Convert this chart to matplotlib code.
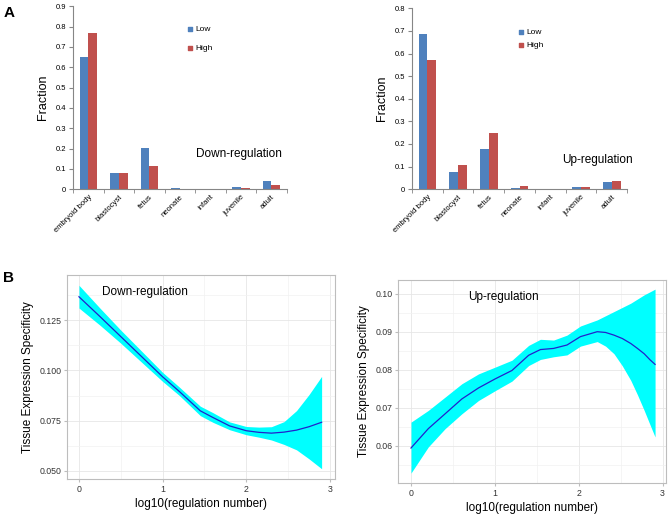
import numpy as np
import matplotlib.pyplot as plt
from matplotlib.ticker import MultipleLocator, FuncFormatter

plt.rcParams['font.family'] = ['Liberation Sans', 'DejaVu Sans']

# Panel A data (fraction per stage)
stages = ['embryoid body', 'blastocyst', 'fetus', 'neonate', 'infant', 'juvenile', 'adult']
down_low = [0.650, 0.082, 0.205, 0.005, 0.002, 0.010, 0.038]
down_high = [0.770, 0.082, 0.115, 0.001, 0.003, 0.005, 0.020]
up_low = [0.685, 0.078, 0.180, 0.004, 0.002, 0.009, 0.034]
up_high = [0.573, 0.108, 0.248, 0.014, 0.000, 0.012, 0.038]

# Panel B data (smoothed curve and confidence band)
down_x = [0, 0.25, 0.5, 0.75, 1.0, 1.2, 1.45, 1.6, 1.8, 2.0, 2.15, 2.3, 2.45, 2.6, 2.75, 2.9]
down_mean = [0.1366, 0.1268, 0.1168, 0.1068, 0.0968, 0.0895, 0.0799, 0.0766, 0.0724, 0.0700, 0.0692,
             0.0688, 0.0693, 0.0703, 0.0720, 0.0742]
down_lo = [0.1310, 0.1225, 0.1135, 0.1040, 0.0945, 0.0875, 0.0775, 0.0742, 0.0705, 0.0680, 0.0668,
           0.0654, 0.0632, 0.0605, 0.0560, 0.0511]
down_hi = [0.1423, 0.1310, 0.1200, 0.1095, 0.0990, 0.0917, 0.0822, 0.0790, 0.0744, 0.0721, 0.0718,
           0.0720, 0.0745, 0.0800, 0.0880, 0.0970]

up_x = [0, 0.207, 0.407, 0.606, 0.805, 1.005, 1.204, 1.403, 1.543, 1.70, 1.86, 2.02, 2.22, 2.32,
        2.42, 2.52, 2.62, 2.70, 2.78, 2.85, 2.91]
up_mean = [0.0594, 0.0645, 0.0684, 0.0723, 0.0752, 0.0776, 0.0798, 0.0838, 0.0853, 0.0856, 0.0865,
           0.0887, 0.0900, 0.0898, 0.0891, 0.0882, 0.0869, 0.0856, 0.0842, 0.0826, 0.0814]
up_lo = [0.0528, 0.0597, 0.0645, 0.0684, 0.0719, 0.0745, 0.0770, 0.0811, 0.0827, 0.0834, 0.0839,
         0.0862, 0.0874, 0.0862, 0.0842, 0.0810, 0.0772, 0.0734, 0.0693, 0.0655, 0.0623]
up_hi = [0.0662, 0.0693, 0.0728, 0.0763, 0.0789, 0.0807, 0.0825, 0.0864, 0.0880, 0.0878, 0.0891,
         0.0915, 0.0931, 0.0942, 0.0953, 0.0964, 0.0975, 0.0986, 0.0997, 0.1005, 0.1012]

blue = '#4F81BD'
red = '#C0504D'

fig = plt.figure(figsize=(6.7, 5.17), dpi=100)


def bar_panel(rect, low, high, ymax, label, label_xy, leg_y):
    ax = fig.add_axes(rect)
    x = np.arange(len(stages))
    w = 0.285
    ax.bar(x - w / 2, low, w, color=blue)
    ax.bar(x + w / 2, high, w, color=red)
    ax.set_xlim(-0.5, len(stages) - 0.5)
    ax.set_ylim(0, ymax)
    ax.set_yticks(np.round(np.arange(0, ymax + 0.01, 0.1), 1))
    ax.yaxis.set_major_formatter(FuncFormatter(lambda v, p: '0' if v == 0 else '%.1f' % v))
    ax.set_xticks(x)
    ax.set_xticklabels(stages, rotation=45, ha='right', rotation_mode='anchor', fontsize=5.5)
    ax.tick_params(axis='x', length=0, pad=3)
    ax.set_xticks(np.arange(-0.5, len(stages)), minor=True)
    ax.tick_params(axis='x', which='minor', length=3, color='#868686')
    ax.tick_params(axis='y', labelsize=5.5, length=3, color='#868686', pad=2)
    for s in ['top', 'right']:
        ax.spines[s].set_visible(False)
    for s in ['left', 'bottom']:
        ax.spines[s].set_color('#868686')
        ax.spines[s].set_linewidth(0.8)
    ax.set_ylabel('Fraction', fontsize=9, labelpad=5)
    ax.text(label_xy[0], label_xy[1], label, fontsize=8.5, va='center')
    # legend
    ax.scatter([label_xy[2]], [leg_y[0]], marker='s', s=12, color=blue)
    ax.scatter([label_xy[2]], [leg_y[1]], marker='s', s=12, color=red)
    ax.text(label_xy[2] + 0.18, leg_y[0], 'Low', fontsize=6, va='center')
    ax.text(label_xy[2] + 0.18, leg_y[1], 'High', fontsize=6, va='center')
    return ax


bar_panel([0.109, 0.634, 0.319, 0.354], down_low, down_high, 0.9,
          'Down-regulation', (3.52, 0.171, 3.32), (0.787, 0.694))
bar_panel([0.615, 0.634, 0.321, 0.350], up_low, up_high, 0.8,
          'Up-regulation', (4.38, 0.128, 3.04), (0.694, 0.636))


def curve_panel(rect, x, mean, lo, hi, xlim, ylim, ymajor, yfmt, label, label_xy):
    ax = fig.add_axes(rect)
    ax.fill_between(x, lo, hi, color='#00FFFF', linewidth=0, zorder=2)
    ax.plot(x, mean, color='#2222CC', linewidth=0.9, zorder=3)
    ax.set_xlim(*xlim)
    ax.set_ylim(*ylim)
    ax.xaxis.set_major_locator(MultipleLocator(1))
    ax.xaxis.set_minor_locator(MultipleLocator(0.5))
    ax.yaxis.set_major_locator(MultipleLocator(ymajor))
    ax.yaxis.set_minor_locator(MultipleLocator(ymajor / 2))
    ax.yaxis.set_major_formatter(plt.FormatStrFormatter(yfmt))
    ax.grid(which='major', color='#E6E6E6', linewidth=0.6, zorder=0)
    ax.grid(which='minor', color='#F2F2F2', linewidth=0.5, zorder=0)
    ax.set_axisbelow(True)
    for s in ax.spines.values():
        s.set_color('#BDBDBD')
        s.set_linewidth(0.8)
    ax.tick_params(which='major', labelsize=6.3, length=2, color='#BDBDBD', labelcolor='#333333', pad=2)
    ax.tick_params(which='minor', length=0)
    ax.set_ylabel('Tissue Expression Specificity', fontsize=8.5, labelpad=4)
    ax.set_xlabel('log10(regulation number)', fontsize=8.5, labelpad=3)
    ax.text(label_xy[0], label_xy[1], label, fontsize=8.5, va='center')
    return ax


curve_panel([0.100, 0.0735, 0.400, 0.3945], down_x, down_mean, down_lo, down_hi,
            (-0.143, 3.06), (0.046, 0.1474), 0.025, '%.3f', 'Down-regulation', (0.27, 0.139))
curve_panel([0.594, 0.0658, 0.400, 0.3926], up_x, up_mean, up_lo, up_hi,
            (-0.155, 3.04), (0.0502, 0.1036), 0.01, '%.2f', 'Up-regulation', (0.685, 0.0991))

fig.text(0.005, 0.975, 'A', fontsize=11, fontweight='bold', va='center')
fig.text(0.005, 0.462, 'B', fontsize=11, fontweight='bold', va='center')

plt.savefig('out.png', dpi=100)
